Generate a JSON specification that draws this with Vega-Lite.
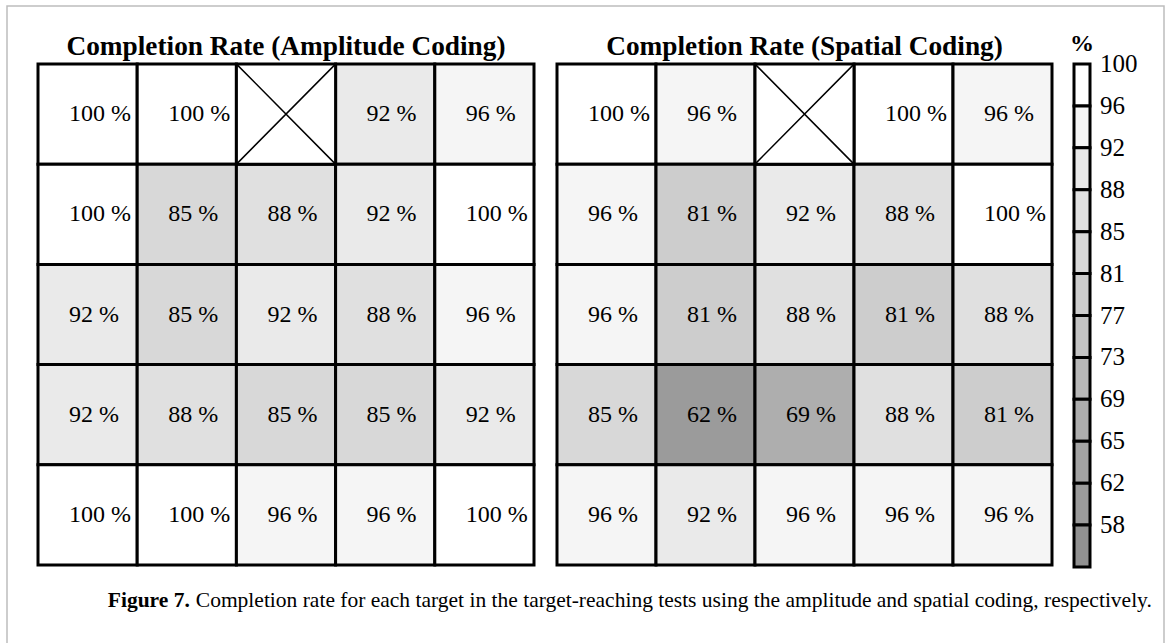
{
  "$schema": "https://vega.github.io/schema/vega-lite/v6.json",
  "width": 1157,
  "height": 660,
  "autosize": "none",
  "padding": {"left": 7, "top": 6, "right": 7, "bottom": 0},
  "background": "white",
  "config": {
    "view": {"stroke": "#bdbdbd", "strokeWidth": 1.5},
    "text": {"font": "Liberation Serif", "color": "black"}
  },
  "datasets": {
    "amplitude": [
      {"row": 1, "col": 1, "value": 100}, {"row": 1, "col": 2, "value": 100}, {"row": 1, "col": 4, "value": 92}, {"row": 1, "col": 5, "value": 96},
      {"row": 2, "col": 1, "value": 100}, {"row": 2, "col": 2, "value": 85}, {"row": 2, "col": 3, "value": 88}, {"row": 2, "col": 4, "value": 92}, {"row": 2, "col": 5, "value": 100},
      {"row": 3, "col": 1, "value": 92}, {"row": 3, "col": 2, "value": 85}, {"row": 3, "col": 3, "value": 92}, {"row": 3, "col": 4, "value": 88}, {"row": 3, "col": 5, "value": 96},
      {"row": 4, "col": 1, "value": 92}, {"row": 4, "col": 2, "value": 88}, {"row": 4, "col": 3, "value": 85}, {"row": 4, "col": 4, "value": 85}, {"row": 4, "col": 5, "value": 92},
      {"row": 5, "col": 1, "value": 100}, {"row": 5, "col": 2, "value": 100}, {"row": 5, "col": 3, "value": 96}, {"row": 5, "col": 4, "value": 96}, {"row": 5, "col": 5, "value": 100}
    ],
    "spatial": [
      {"row": 1, "col": 1, "value": 100}, {"row": 1, "col": 2, "value": 96}, {"row": 1, "col": 4, "value": 100}, {"row": 1, "col": 5, "value": 96},
      {"row": 2, "col": 1, "value": 96}, {"row": 2, "col": 2, "value": 81}, {"row": 2, "col": 3, "value": 92}, {"row": 2, "col": 4, "value": 88}, {"row": 2, "col": 5, "value": 100},
      {"row": 3, "col": 1, "value": 96}, {"row": 3, "col": 2, "value": 81}, {"row": 3, "col": 3, "value": 88}, {"row": 3, "col": 4, "value": 81}, {"row": 3, "col": 5, "value": 88},
      {"row": 4, "col": 1, "value": 85}, {"row": 4, "col": 2, "value": 62}, {"row": 4, "col": 3, "value": 69}, {"row": 4, "col": 4, "value": 88}, {"row": 4, "col": 5, "value": 81},
      {"row": 5, "col": 1, "value": 96}, {"row": 5, "col": 2, "value": 92}, {"row": 5, "col": 3, "value": 96}, {"row": 5, "col": 4, "value": 96}, {"row": 5, "col": 5, "value": 96}
    ],
    "untested": [{"row": 1, "col": 3}],
    "colorbar": [
      {"level": 100}, {"level": 96}, {"level": 92}, {"level": 88}, {"level": 85}, {"level": 81},
      {"level": 77}, {"level": 73}, {"level": 69}, {"level": 65}, {"level": 62}, {"level": 58}
    ]
  },
  "layer": [
    {
      "layer": [
        {
          "data": {"name": "amplitude"},
          "mark": {"type": "rect", "stroke": "black", "strokeWidth": 3},
          "encoding": {
            "x": {"field": "col", "type": "ordinal", "axis": null, "scale": {"type": "band", "domain": [1, 2, 3, 4, 5], "range": [31, 527], "paddingInner": 0, "paddingOuter": 0}},
            "y": {"field": "row", "type": "ordinal", "axis": null, "scale": {"type": "band", "domain": [1, 2, 3, 4, 5], "range": [58, 559], "paddingInner": 0, "paddingOuter": 0}},
            "color": {"field": "value", "type": "quantitative", "legend": null, "scale": {"type": "linear", "domain": [58, 100], "range": ["#919191", "#ffffff"], "interpolate": "rgb"}}
          }
        },
        {
          "data": {"name": "untested"},
          "mark": {"type": "rect", "fill": "white", "stroke": "black", "strokeWidth": 3},
          "encoding": {
            "x": {"field": "col", "type": "ordinal"},
            "y": {"field": "row", "type": "ordinal"}
          }
        },
        {
          "data": {"name": "untested"},
          "mark": {"type": "point", "shape": "M-0.99,-1L0.99,1M-0.99,1L0.99,-1", "size": 10000, "filled": false, "stroke": "black", "strokeWidth": 1.5, "opacity": 1},
          "encoding": {
            "x": {"field": "col", "type": "ordinal"},
            "y": {"field": "row", "type": "ordinal"}
          }
        },
        {
          "data": {"name": "amplitude"},
          "mark": {"type": "text", "align": "left", "baseline": "middle", "dx": 31, "fontSize": 24, "text": {"expr": "datum.value + ' %'"}},
          "encoding": {
            "x": {"field": "col", "type": "ordinal", "bandPosition": 0},
            "y": {"field": "row", "type": "ordinal"}
          }
        },
        {
          "data": {"values": [{}]},
          "mark": {"type": "text", "text": "Completion Rate (Amplitude Coding)", "fontSize": 27.3, "fontWeight": "bold", "baseline": "alphabetic", "dy": -59},
          "encoding": {
            "x": {"datum": 3, "type": "ordinal"},
            "y": {"datum": 1, "type": "ordinal"}
          }
        },
        {
          "data": {"values": [{}]},
          "mark": {"type": "text", "text": "Figure 7.", "fontSize": 21.5, "fontWeight": "bold", "align": "right", "baseline": "alphabetic", "dx": 3, "dy": 92},
          "encoding": {
            "x": {"datum": 2, "type": "ordinal"},
            "y": {"datum": 5, "type": "ordinal"}
          }
        },
        {
          "data": {"values": [{}]},
          "mark": {"type": "text", "text": "Completion rate for each target in the target-reaching tests using the amplitude and spatial coding, respectively.", "fontSize": 21.5, "align": "left", "baseline": "alphabetic", "dx": 9, "dy": 92},
          "encoding": {
            "x": {"datum": 2, "type": "ordinal"},
            "y": {"datum": 5, "type": "ordinal"}
          }
        }
      ]
    },
    {
      "layer": [
        {
          "data": {"name": "spatial"},
          "mark": {"type": "rect", "stroke": "black", "strokeWidth": 3},
          "encoding": {
            "x": {"field": "col", "type": "ordinal", "axis": null, "scale": {"type": "band", "domain": [1, 2, 3, 4, 5], "range": [550, 1045], "paddingInner": 0, "paddingOuter": 0}},
            "y": {"field": "row", "type": "ordinal", "axis": null, "scale": {"type": "band", "domain": [1, 2, 3, 4, 5], "range": [58, 559], "paddingInner": 0, "paddingOuter": 0}},
            "color": {"field": "value", "type": "quantitative", "legend": null}
          }
        },
        {
          "data": {"name": "untested"},
          "mark": {"type": "rect", "fill": "white", "stroke": "black", "strokeWidth": 3},
          "encoding": {
            "x": {"field": "col", "type": "ordinal"},
            "y": {"field": "row", "type": "ordinal"}
          }
        },
        {
          "data": {"name": "untested"},
          "mark": {"type": "point", "shape": "M-0.99,-1L0.99,1M-0.99,1L0.99,-1", "size": 10000, "filled": false, "stroke": "black", "strokeWidth": 1.5, "opacity": 1},
          "encoding": {
            "x": {"field": "col", "type": "ordinal"},
            "y": {"field": "row", "type": "ordinal"}
          }
        },
        {
          "data": {"name": "spatial"},
          "mark": {"type": "text", "align": "left", "baseline": "middle", "dx": 31, "fontSize": 24, "text": {"expr": "datum.value + ' %'"}},
          "encoding": {
            "x": {"field": "col", "type": "ordinal", "bandPosition": 0},
            "y": {"field": "row", "type": "ordinal"}
          }
        },
        {
          "data": {"values": [{}]},
          "mark": {"type": "text", "text": "Completion Rate (Spatial Coding)", "fontSize": 27.3, "fontWeight": "bold", "baseline": "alphabetic", "dy": -59},
          "encoding": {
            "x": {"datum": 3, "type": "ordinal"},
            "y": {"datum": 1, "type": "ordinal"}
          }
        }
      ]
    },
    {
      "data": {"name": "colorbar"},
      "layer": [
        {
          "mark": {"type": "rect", "stroke": "black", "strokeWidth": 3},
          "encoding": {
            "x": {"datum": "bar", "type": "nominal", "axis": null, "scale": {"type": "band", "domain": ["bar"], "range": [1067, 1083], "paddingInner": 0, "paddingOuter": 0}},
            "y": {"field": "level", "type": "ordinal", "axis": null, "scale": {"type": "band", "domain": [100, 96, 92, 88, 85, 81, 77, 73, 69, 65, 62, 58], "range": [58, 561], "paddingInner": 0, "paddingOuter": 0}},
            "color": {"field": "level", "type": "quantitative", "legend": null}
          }
        },
        {
          "mark": {"type": "text", "align": "left", "baseline": "middle", "dx": 18, "fontSize": 25},
          "encoding": {
            "x": {"datum": "bar", "type": "nominal"},
            "y": {"field": "level", "type": "ordinal", "bandPosition": 0},
            "text": {"field": "level", "type": "quantitative"}
          }
        },
        {
          "data": {"values": [{}]},
          "mark": {"type": "text", "text": "%", "fontSize": 24, "fontWeight": "bold", "baseline": "middle", "dy": -41},
          "encoding": {
            "x": {"datum": "bar", "type": "nominal"},
            "y": {"datum": 100, "type": "ordinal"}
          }
        }
      ]
    }
  ],
  "resolve": {"scale": {"x": "independent", "y": "independent"}}
}
